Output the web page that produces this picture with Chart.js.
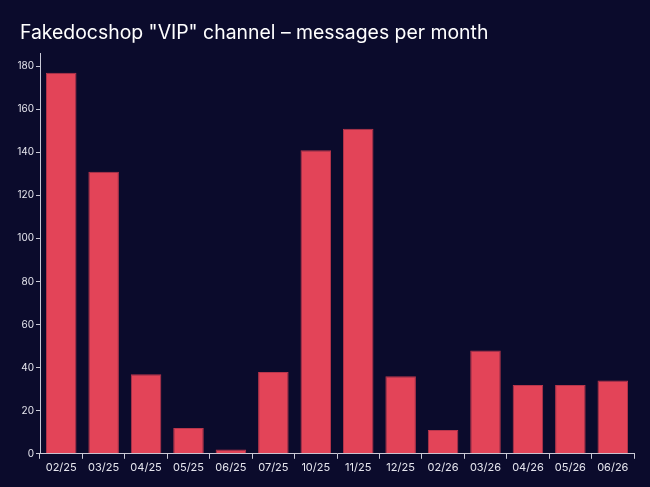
<!DOCTYPE html>
<html>
<head>
<meta charset="utf-8">
<script src="https://cdn.jsdelivr.net/npm/chart.js@4"></script>
<style>
  html, body { margin: 0; padding: 0; background: #0b0b2c; }
  canvas { display: block; }
</style>
</head>
<body>
<canvas id="msgChart" width="650" height="487"></canvas>
<script>
const months = ['02/25', '03/25', '04/25', '05/25', '06/25', '07/25', '10/25', '11/25', '12/25', '02/26', '03/26', '04/26', '05/26', '06/26'];
const messages = [177, 131, 37, 12, 2, 38, 141, 151, 36, 11, 48, 32, 32, 34];
const yTicks = [0, 20, 40, 60, 80, 100, 120, 140, 160, 180];

const axisColor = '#c9c9d6';
const labelColor = '#e6e6ee';

// nudge the title a few px right of the y-axis labels
const titleShift = {
    id: 'titleShift',
    afterLayout: chart => {
        if (chart.titleBlock) {
            chart.titleBlock.left += 6;
            chart.titleBlock.right += 6;
        }
    }
};

const ctx = document.getElementById('msgChart').getContext('2d');

const msgChart = new Chart(ctx, {
    type: 'bar',
    data: {
        labels: months,
        datasets: [
            {
                label: 'Messages',
                data: messages,
                backgroundColor: '#e34458',
                borderColor: '#b8364c',
                borderWidth: 1,
                categoryPercentage: 0.8,
                barPercentage: 0.9
            }
        ]
    },
    plugins: [titleShift],
    options: {
        responsive: false,
        animation: false,
        layout: {
            padding: { left: 14, right: 16, top: 18, bottom: 11 }
        },
        plugins: {
            legend: { display: false },
            tooltip: { enabled: false },
            title: {
                display: true,
                text: 'Fakedocshop "VIP" channel \u2013 messages per month',
                align: 'start',
                color: '#ffffff',
                font: { family: 'Inter', size: 19.4, weight: 'normal' },
                padding: { top: 4, bottom: 8 }
            }
        },
        scales: {
            x: {
                grid: {
                    offset: true,
                    drawOnChartArea: false,
                    tickLength: 5,
                    color: axisColor
                },
                border: { color: axisColor, width: 1 },
                ticks: {
                    color: labelColor,
                    font: { family: 'Inter', size: 11 },
                    maxRotation: 0,
                    padding: 2
                }
            },
            y: {
                min: 0,
                max: 186,
                afterBuildTicks: axis => {
                    axis.ticks = yTicks.map(v => ({ value: v }));
                },
                afterFit: axis => {
                    axis.width = 26;
                },
                grid: {
                    drawOnChartArea: false,
                    tickLength: 4,
                    color: axisColor
                },
                border: { color: axisColor, width: 1 },
                ticks: {
                    color: labelColor,
                    font: { family: 'Inter', size: 10 },
                    padding: 2
                }
            }
        }
    }
});
</script>
</body>
</html>
